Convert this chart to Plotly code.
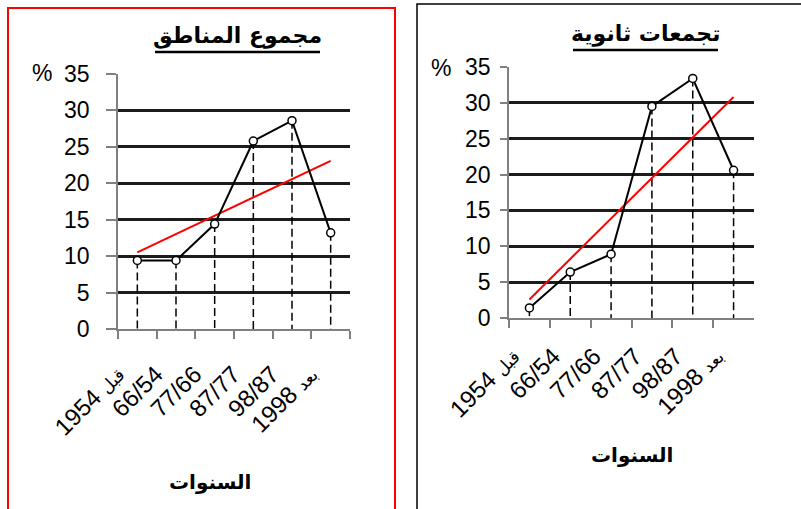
import numpy as np
import plotly.graph_objects as go

# Periods (number part, Arabic qualifier if any)
periods = [("1954", "قبل"), ("66/54", ""), ("77/66", ""), ("87/77", ""), ("98/87", ""), ("1998", "بعد")]

# Share of population growth per period (%)
all_areas = [9.4, 9.4, 14.4, 25.8, 28.6, 13.2]
secondary_centres = [1.4, 6.4, 8.9, 29.5, 33.4, 20.6]

y_ticks = [0, 5, 10, 15, 20, 25, 30, 35]

titles = ["مجموع المناطق", "تجمعات ثانوية"]
x_title = "السنوات"

W, H = 801, 509
FONT = "Liberation Sans, Arial, DejaVu Sans"
AR_FONT = "DejaVu Sans"


def label(num, word):
    if word:
        return f"{num} <span style='font-size:17px;font-family:{AR_FONT}'>{word}</span>"
    return num


cats = [label(n, w) for n, w in periods]


def px_x(p):
    return p / W


def px_y(p):
    return (H - p) / H


fig = go.Figure()

panels = [
    dict(values=all_areas, xa="x", ya="y"),
    dict(values=secondary_centres, xa="x2", ya="y2"),
]

for p in panels:
    vals = p["values"]
    # dashed drop lines from each point to the category axis
    dx, dy = [], []
    for c, v in zip(cats, vals):
        dx += [c, c, None]
        dy += [v, 0, None]
    fig.add_trace(go.Scatter(x=dx, y=dy, mode="lines", xaxis=p["xa"], yaxis=p["ya"],
                             line=dict(color="black", width=1.5, dash="8px,4px"),
                             hoverinfo="skip"))
    # linear trend line
    idx = np.arange(1, len(vals) + 1)
    slope, intercept = np.polyfit(idx, vals, 1)
    fig.add_trace(go.Scatter(x=[cats[0], cats[-1]],
                             y=[slope * idx[0] + intercept, slope * idx[-1] + intercept],
                             mode="lines", xaxis=p["xa"], yaxis=p["ya"],
                             line=dict(color="#ff0000", width=2)))
    # data series
    fig.add_trace(go.Scatter(x=cats, y=vals, mode="lines+markers", xaxis=p["xa"], yaxis=p["ya"],
                             line=dict(color="black", width=2),
                             marker=dict(symbol="circle", size=8, color="white",
                                         line=dict(color="black", width=1.5))))

axis_common_x = dict(type="category", tickson="boundaries", ticks="outside", ticklen=8,
                     tickcolor="#808080", tickwidth=1.5, showline=True, linecolor="#808080",
                     linewidth=1.5, tickangle=-45, showgrid=False, zeroline=False,
                     automargin=False,
                     tickfont=dict(family=FONT, size=24, color="black"),
                     range=[-0.5, len(cats) - 0.5], categoryorder="array", categoryarray=cats)
axis_common_y = dict(range=[0, 35], tickvals=y_ticks, ticks="outside",
                     tickcolor="#808080", tickwidth=1.5, showline=True, linecolor="#808080",
                     linewidth=1.5, showgrid=True, gridcolor="#1c1c1c", gridwidth=3,
                     zeroline=False, automargin=False,
                     tickfont=dict(family=FONT, size=23, color="black"))

fig.update_layout(
    width=W, height=H, margin=dict(l=0, r=0, t=0, b=0, pad=0, autoexpand=False),
    paper_bgcolor="white", plot_bgcolor="white", showlegend=False,
    xaxis=dict(domain=[px_x(118), px_x(350)], anchor="y", ticklabelstandoff=20,
               ticklabelshift=-20, **axis_common_x),
    yaxis=dict(domain=[px_y(329), px_y(74)], anchor="x", ticklen=10, ticklabelstandoff=12,
               **axis_common_y),
    xaxis2=dict(domain=[px_x(509), px_x(754)], anchor="y2", ticklabelstandoff=13,
                ticklabelshift=-17, **axis_common_x),
    yaxis2=dict(domain=[px_y(318), px_y(67)], anchor="x2", ticklen=7, ticklabelstandoff=5,
                **axis_common_y),
)

# panel frames
fig.add_shape(type="rect", xref="paper", yref="paper",
              x0=px_x(8), x1=px_x(395), y0=px_y(8), y1=px_y(530),
              line=dict(color="#ff0000", width=2), fillcolor="rgba(0,0,0,0)")
fig.add_shape(type="rect", xref="paper", yref="paper",
              x0=px_x(417), x1=px_x(830), y0=px_y(4), y1=px_y(530),
              line=dict(color="black", width=1.5), fillcolor="rgba(0,0,0,0)")

# titles with underline rules
for t, cx, cy, (u0, u1) in zip(titles, [237, 646], [36, 34], [(155, 320), (573, 718)]):
    fig.add_annotation(text=f"<b>{t}</b>", x=px_x(cx), y=px_y(cy), xref="paper", yref="paper",
                       xanchor="center", yanchor="middle", showarrow=False,
                       font=dict(family=AR_FONT, size=22, color="black"))
    fig.add_shape(type="line", xref="paper", yref="paper",
                  x0=px_x(u0), x1=px_x(u1), y0=px_y(cy + 16), y1=px_y(cy + 16),
                  line=dict(color="black", width=2.5))
# percent signs
for cx, cy in [(42, 73), (441, 68)]:
    fig.add_annotation(text="%", x=px_x(cx), y=px_y(cy), xref="paper", yref="paper",
                       xanchor="center", yanchor="middle", showarrow=False,
                       font=dict(family=FONT, size=23, color="black"))
# axis titles
for cx, cy in [(210, 482), (632, 455)]:
    fig.add_annotation(text=f"<b>{x_title}</b>", x=px_x(cx), y=px_y(cy), xref="paper", yref="paper",
                       xanchor="center", yanchor="middle", showarrow=False,
                       font=dict(family=AR_FONT, size=20, color="black"))

fig.write_html("out.html")
